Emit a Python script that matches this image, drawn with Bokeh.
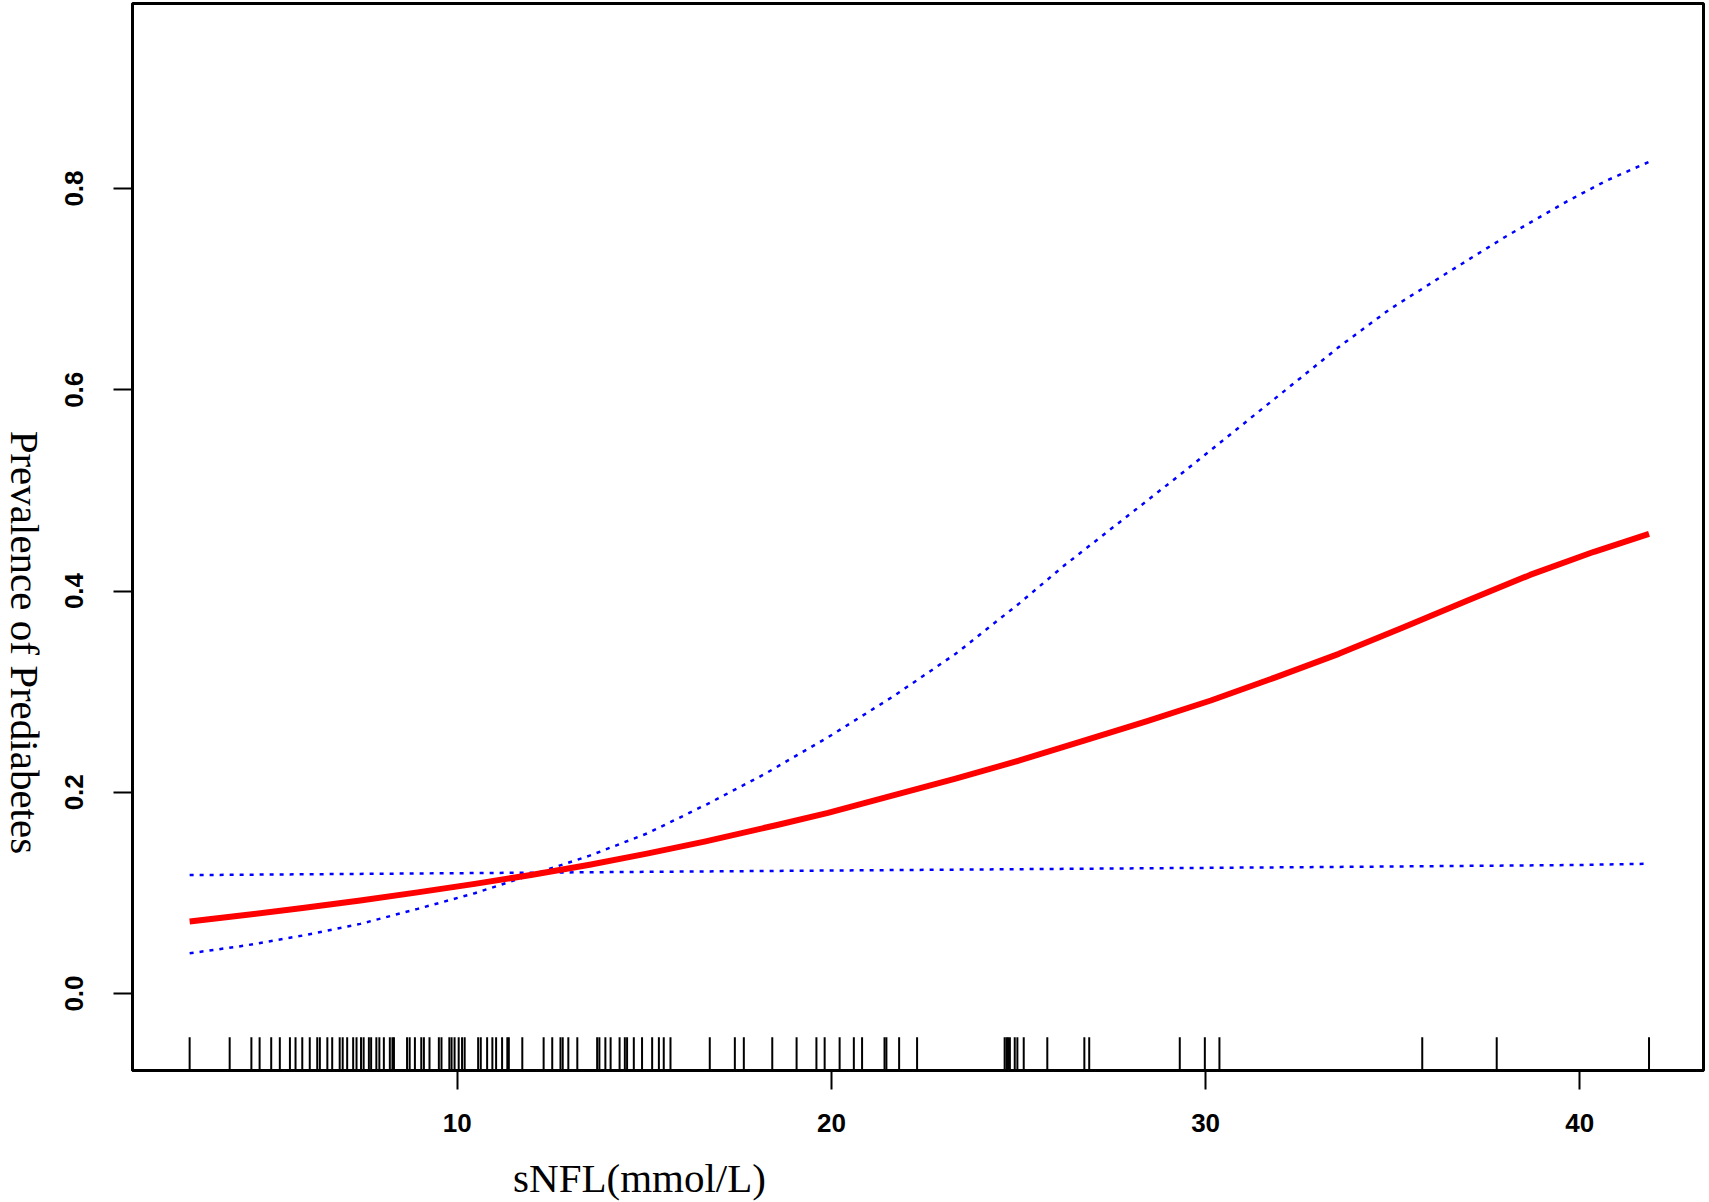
import math
from bokeh.plotting import figure
from bokeh.layouts import row, column
from bokeh.models import Range1d, FixedTicker, PrintfTickFormatter, ColumnDataSource, Label
from bokeh.embed import file_html
from bokeh.resources import INLINE

# ---- data ----
fit_x = [2.85, 4.34, 5.87, 7.41, 8.94, 10.47, 12.01, 13.54, 15.07, 16.61, 18.55, 19.91,
         21.45, 23.32, 25.03, 26.73, 28.44, 30.14, 31.85, 33.56, 35.26, 36.97, 38.67, 40.38, 41.85]
fit_y = [0.0716, 0.0780, 0.0850, 0.0925, 0.1005, 0.1090, 0.1180, 0.1280, 0.1390, 0.1510, 0.1675, 0.1795,
         0.1950, 0.2135, 0.2316, 0.2510, 0.2708, 0.2912, 0.3140, 0.3376, 0.3635, 0.3900, 0.4160, 0.4390, 0.4568]

ci_up_x = [2.85, 4.34, 5.87, 7.41, 8.94, 10.47, 12.01, 13.54, 15.07, 16.67, 18.21, 19.91,
           21.62, 23.32, 25.03, 26.22, 28.10, 29.12, 30.14, 31.34, 32.53, 33.56, 34.92, 36.45,
           37.99, 39.70, 40.72, 41.85]
ci_up_y = [0.0400, 0.0477, 0.0576, 0.0692, 0.0841, 0.0997, 0.1183, 0.1370, 0.1590, 0.1880, 0.2180, 0.2547,
           0.2945, 0.3376, 0.3880, 0.4253, 0.4800, 0.5098, 0.5400, 0.5760, 0.6115, 0.6425, 0.6800, 0.7160,
           0.7516, 0.7881, 0.8080, 0.8265]

ci_lo_x = [2.85, 10.37, 17.95, 25.45, 33.13, 39.87, 41.85]
ci_lo_y = [0.1177, 0.1197, 0.1217, 0.1237, 0.1257, 0.1277, 0.1290]

rug_x = [2.85, 3.92, 4.50, 4.72, 5.03, 5.26, 5.53, 5.68, 5.86, 6.06, 6.26, 6.33, 6.53, 6.66, 6.86, 6.94,
         7.06, 7.22, 7.31, 7.43, 7.50, 7.64, 7.70, 7.84, 7.92, 8.04, 8.20, 8.27, 8.31, 8.66, 8.73, 8.87,
         9.04, 9.11, 9.26, 9.51, 9.58, 9.79, 9.85, 9.93, 10.04, 10.13, 10.20, 10.56, 10.63, 10.80, 10.94,
         11.04, 11.20, 11.34, 11.38, 11.74, 12.31, 12.54, 12.76, 12.82, 12.97, 13.21, 13.74, 13.80, 13.96,
         14.10, 14.34, 14.48, 14.54, 14.72, 14.94, 15.21, 15.39, 15.52, 15.70, 16.75, 17.42, 17.66, 18.42,
         19.07, 19.60, 19.82, 20.22, 20.60, 20.82, 21.42, 21.47, 21.81, 22.29, 24.63, 24.68, 24.72, 24.77,
         24.90, 24.97, 25.14, 25.77, 26.76, 26.89, 29.31, 29.98, 30.37, 35.79, 37.78, 41.85]

x_ticks = [10, 20, 30, 40]
y_ticks = [0.0, 0.2, 0.4, 0.6, 0.8]
x_title = "sNFL(mmol/L)"
y_title = "Prevalence of Prediabetes"

# ---- layout sizes (pixels) ----
W, H = 1709, 1202
YT_W = 50          # strip holding the y title
XT_H = 58          # strip holding the x title
MAIN_W, MAIN_H = W - YT_W, H - XT_H

X0, X1 = 1.323, 43.306
Y0, Y1 = -0.0765, 0.9839

p = figure(width=MAIN_W, height=MAIN_H, output_backend="svg", toolbar_location=None,
           x_range=Range1d(X0, X1), y_range=Range1d(Y0, Y1),
           min_border_left=132 - YT_W, min_border_right=6, min_border_top=3,
           min_border_bottom=MAIN_H - 1070)

p.background_fill_color = "white"
p.border_fill_color = "white"
p.outline_line_color = "black"
p.outline_line_width = 3
p.grid.visible = False

for ax in (p.xaxis, p.yaxis):
    ax.axis_line_color = "black"
    ax.axis_line_width = 3
    ax.major_tick_line_color = "black"
    ax.major_tick_line_width = 2
    ax.major_tick_out = 19
    ax.major_tick_in = 0
    ax.minor_tick_line_color = None
    ax.major_label_text_font = "Liberation Sans"
    ax.major_label_text_font_style = "bold"
    ax.major_label_text_font_size = "26px"
    ax.major_label_text_color = "black"

p.xaxis.ticker = FixedTicker(ticks=x_ticks)
p.xaxis.major_label_standoff = 24
p.yaxis.ticker = FixedTicker(ticks=y_ticks)
p.yaxis.formatter = PrintfTickFormatter(format="%.1f")
p.yaxis.major_label_orientation = "vertical"
p.yaxis.major_label_standoff = 30

# rug
rug_len = 0.033
rug_src = ColumnDataSource(dict(x=rug_x, y0=[Y0] * len(rug_x), y1=[Y0 + rug_len] * len(rug_x)))
p.segment(x0="x", y0="y0", x1="x", y1="y1", source=rug_src, line_color="black", line_width=2)

# lines
p.line(ci_lo_x, ci_lo_y, line_color="#0000FF", line_width=2.5, line_dash="4 6")
p.line(ci_up_x, ci_up_y, line_color="#0000FF", line_width=2.5, line_dash="4 6")
p.line(fit_x, fit_y, line_color="#FF0000", line_width=6, line_join="round")


def blank(width, height):
    f = figure(width=width, height=height, output_backend="svg", toolbar_location=None,
               x_range=Range1d(0, width), y_range=Range1d(0, height),
               x_axis_location=None, y_axis_location=None,
               min_border=0, min_border_left=0, min_border_right=0, min_border_top=0, min_border_bottom=0)
    f.outline_line_color = None
    f.grid.visible = False
    f.background_fill_color = "white"
    f.border_fill_color = "white"
    return f


# y title strip (text reads top to bottom)
ytf = blank(YT_W, MAIN_H)
ytf.add_layout(Label(x=24.5, y=459, text=y_title, angle=-math.pi / 2,
                     text_font="Liberation Serif", text_font_size="41px", text_color="black",
                     text_align="center", text_baseline="alphabetic"))

# x title strip
xtf = blank(W, XT_H)
xtf.add_layout(Label(x=639, y=25, text=x_title,
                     text_font="Liberation Serif", text_font_size="41px", text_color="black",
                     text_align="center", text_baseline="alphabetic"))

layout = column(row(ytf, p, spacing=0), xtf, spacing=0)

open("out.html", "w").write(file_html(layout, INLINE))
